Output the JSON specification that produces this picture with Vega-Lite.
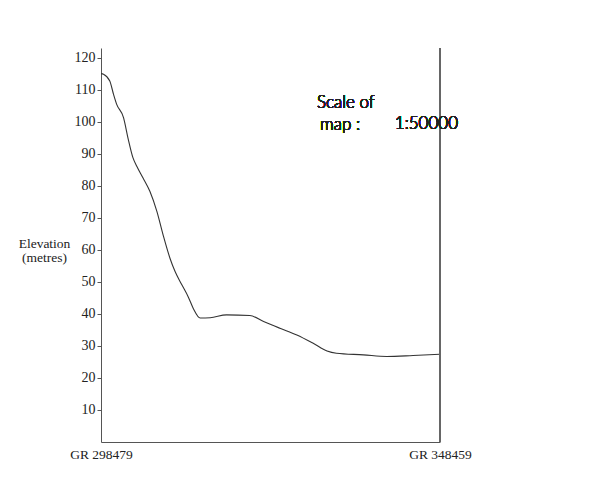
{
  "$schema": "https://vega.github.io/schema/vega-lite/v6.json",
  "description": "Cross-section elevation profile between two grid references",
  "width": 339,
  "height": 394,
  "autosize": "none",
  "padding": {"left": 101, "top": 48, "right": 172, "bottom": 49},
  "background": "white",
  "config": {
    "view": {"stroke": null},
    "font": "Liberation Serif",
    "axis": {"domainColor": "#555", "tickColor": "#555", "labelColor": "#222", "titleColor": "#222", "grid": false}
  },
  "data": {
    "values": [
      {"distance": 0.00, "elevation": 115.0},
      {"distance": 0.04, "elevation": 114.8},
      {"distance": 0.14, "elevation": 112.7},
      {"distance": 0.20, "elevation": 108.5},
      {"distance": 0.25, "elevation": 105.4},
      {"distance": 0.36, "elevation": 101.2},
      {"distance": 0.43, "elevation": 94.9},
      {"distance": 0.51, "elevation": 88.7},
      {"distance": 0.57, "elevation": 86.1},
      {"distance": 0.67, "elevation": 82.4},
      {"distance": 0.78, "elevation": 78.2},
      {"distance": 0.89, "elevation": 72.0},
      {"distance": 0.99, "elevation": 64.6},
      {"distance": 1.10, "elevation": 57.3},
      {"distance": 1.18, "elevation": 53.2},
      {"distance": 1.29, "elevation": 49.0},
      {"distance": 1.39, "elevation": 45.3},
      {"distance": 1.47, "elevation": 41.7},
      {"distance": 1.58, "elevation": 38.7},
      {"distance": 1.74, "elevation": 38.8},
      {"distance": 2.00, "elevation": 39.7},
      {"distance": 2.37, "elevation": 39.5},
      {"distance": 2.59, "elevation": 37.6},
      {"distance": 2.85, "elevation": 35.5},
      {"distance": 3.12, "elevation": 33.4},
      {"distance": 3.38, "elevation": 30.8},
      {"distance": 3.60, "elevation": 28.4},
      {"distance": 3.75, "elevation": 27.7},
      {"distance": 4.18, "elevation": 27.2},
      {"distance": 4.55, "elevation": 26.7},
      {"distance": 4.97, "elevation": 27.0},
      {"distance": 5.40, "elevation": 27.4}
    ]
  },
  "layer": [
    {
      "mark": {"type": "line", "interpolate": "monotone", "color": "#333", "strokeWidth": 1.1},
      "encoding": {
        "x": {
          "field": "distance",
          "type": "quantitative",
          "scale": {"domain": [0, 5.4], "nice": false, "zero": false},
          "axis": {
            "values": [0, 5.4],
            "labelExpr": "datum.value == 0 ? 'GR 298479' : 'GR 348459'",
            "ticks": false,
            "labelFlush": false,
            "labelOverlap": false,
            "labelFontSize": 13.5,
            "labelPadding": 5,
            "title": null
          }
        },
        "y": {
          "field": "elevation",
          "type": "quantitative",
          "scale": {"domain": [0, 123], "nice": false},
          "axis": {
            "values": [10, 20, 30, 40, 50, 60, 70, 80, 90, 100, 110, 120],
            "tickCount": 20,
            "labelOverlap": false,
            "tickSize": 4,
            "labelPadding": 2,
            "labelFontSize": 14,
            "title": ["Elevation", "(metres)"],
            "titleFontSize": 13.5,
            "titleFontWeight": "normal",
            "titleAngle": 0,
            "titleAlign": "center",
            "titleBaseline": "middle",
            "titleLineHeight": 14,
            "titleX": -57,
            "titleY": 195
          }
        }
      }
    },
    {
      "mark": {"type": "rule", "color": "#666", "strokeWidth": 1},
      "encoding": {
        "x": {"datum": 5.4},
        "y": {"datum": 0},
        "y2": {"datum": 123}
      }
    },
    {
      "mark": {"type": "text", "align": "left", "baseline": "middle", "font": "Lato", "fontWeight": 300, "fontSize": 17, "color": "#222"},
      "encoding": {
        "x": {"datum": 3.44},
        "y": {"datum": 105.8},
        "text": {"value": "Scale of"}
      }
    },
    {
      "mark": {"type": "text", "align": "left", "baseline": "middle", "font": "Lato", "fontWeight": 300, "fontSize": 17, "color": "#222"},
      "encoding": {
        "x": {"datum": 3.49},
        "y": {"datum": 99},
        "text": {"value": "map :"}
      }
    },
    {
      "mark": {"type": "text", "align": "left", "baseline": "middle", "font": "Lato", "fontWeight": 300, "fontSize": 17, "color": "#222"},
      "encoding": {
        "x": {"datum": 4.68},
        "y": {"datum": 99.4},
        "text": {"value": "1:50000"}
      }
    }
  ]
}
